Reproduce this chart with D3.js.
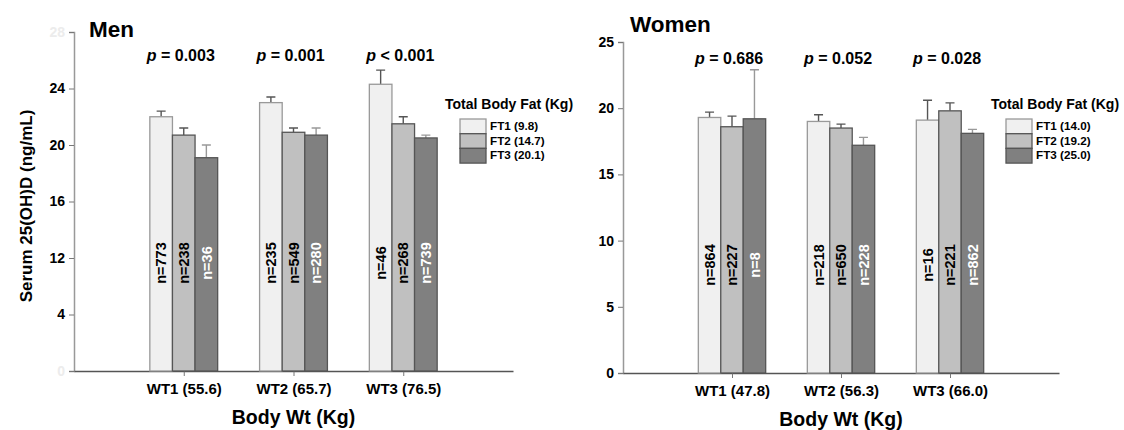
<!DOCTYPE html>
<html>
<head>
<meta charset="utf-8">
<script src="https://cdn.jsdelivr.net/npm/d3@7"></script>
<style>
  body { margin: 0; background: #fff; }
  svg { font-family: "Liberation Sans", Arial, sans-serif; font-weight: bold; }
</style>
</head>
<body>
<svg id="chart" width="1124" height="430"></svg>
<script>
// bar chart data, men panel
var groupsMen = ["WT1 (55.6)", "WT2 (65.7)", "WT3 (76.5)"];
var seriesMen = ["FT1 (9.8)", "FT2 (14.7)", "FT3 (20.1)"];
var meanMen = [[22.0, 20.7, 19.1], [23.0, 20.9, 20.7], [24.3, 21.5, 20.5]];
var errTopMen = [[22.4, 21.2, 20.0], [23.4, 21.2, 21.2], [25.3, 22.0, 20.7]];
var nMen = [["773", "238", "36"], ["235", "549", "280"], ["46", "268", "739"]];
var pMen = ["= 0.003", "= 0.001", "< 0.001"];
var yTicksMen = [4, 8, 12, 16, 20, 24, 28];
var yTickLabelsMen = ["0", "4", "12", "16", "20", "24", "28"];

// women panel
var groupsWomen = ["WT1 (47.8)", "WT2 (56.3)", "WT3 (66.0)"];
var seriesWomen = ["FT1 (14.0)", "FT2 (19.2)", "FT3 (25.0)"];
var meanWomen = [[19.3, 18.6, 19.2], [19.0, 18.5, 17.2], [19.1, 19.8, 18.1]];
var errTopWomen = [[19.7, 19.4, 22.9], [19.5, 18.8, 17.8], [20.6, 20.4, 18.4]];
var nWomen = [["864", "227", "8"], ["218", "650", "228"], ["16", "221", "862"]];
var pWomen = ["= 0.686", "= 0.052", "= 0.028"];
var yTicksWomen = [0, 5, 10, 15, 20, 25];
var yTickLabelsWomen = ["0", "5", "10", "15", "20", "25"];

//bar styles per fat tertile
var barFill = ["#f0f0f0", "#c0c0c0", "#808080"];
var barStroke = ["#999999", "#555555", "#555555"];
var errColor = ["#555555", "#555555", "#999999"];
var nColor = ["#000", "#000", "#fff"];

var svg = d3.select("#chart");

drawPanel({
  title: "Men", titleX: 89, titleY: 37,
  groups: groupsMen, series: seriesMen, mean: meanMen, errTop: errTopMen, n: nMen, p: pMen,
  yTicks: yTicksMen, yLabels: yTickLabelsMen, faintEnds: true,
  x0: 74, x1: 513, yMin: 4, yMax: 28, yBottom: 371, yTop: 32,
  pY: 61, nY: 263, legX: 445, legY: 109, yTitle: "Serum 25(OH)D (ng/mL)"
});

drawPanel({
  title: "Women", titleX: 630, titleY: 32,
  groups: groupsWomen, series: seriesWomen, mean: meanWomen, errTop: errTopWomen, n: nWomen, p: pWomen,
  yTicks: yTicksWomen, yLabels: yTickLabelsWomen, faintEnds: false,
  x0: 623, x1: 1059, yMin: 0, yMax: 25, yBottom: 373, yTop: 42,
  pY: 64, nY: 265, legX: 991, legY: 109, yTitle: null
});

function drawPanel(c) {
  var g = svg.append("g");

  var y = d3.scaleLinear().domain([c.yMin, c.yMax]).range([c.yBottom, c.yTop]);
  var x = d3.scalePoint().domain(c.groups).range([c.x0, c.x1]).padding(1);
  var bw = x.step() * 0.206;
  var xs = d3.scaleBand().domain(c.series).range([-1.5 * bw, 1.5 * bw]);

  //y axis
  var yAxis = g.append("g")
    .attr("transform", "translate(" + c.x0 + ",0)")
    .call(d3.axisLeft(y).tickValues(c.yTicks).tickSize(5).tickPadding(4)
      .tickFormat(function(d, i) { return c.yLabels[i]; }));
  yAxis.select(".domain").attr("stroke", "#999").attr("stroke-width", 1.5);
  yAxis.selectAll(".tick line").attr("stroke", "#777");
  yAxis.selectAll(".tick text")
    .attr("font-size", 14).attr("font-weight", "bold")
    .attr("font-family", "'Liberation Sans', Arial, sans-serif")
    .attr("fill", function(d, i) {
      if (c.faintEnds && (i == 0 || i == c.yTicks.length - 1)) return "#ececec";
      return "#000";
    });

  //x axis
  var xAxis = g.append("g")
    .attr("transform", "translate(0," + c.yBottom + ")")
    .call(d3.axisBottom(x).tickSize(5).tickPadding(7).tickSizeOuter(0));
  xAxis.select(".domain").attr("stroke", "#555").attr("stroke-width", 1.3);
  xAxis.selectAll(".tick line").attr("stroke", "#777");
  xAxis.selectAll(".tick text")
    .attr("font-size", 15).attr("font-weight", "bold")
    .attr("font-family", "'Liberation Sans', Arial, sans-serif")
    .attr("fill", "#000");

  //bars
  var groups = g.selectAll(".grp").data(c.groups).enter().append("g")
    .attr("transform", function(d) { return "translate(" + x(d) + ",0)"; });

  groups.each(function(gName, gi) {
    var gg = d3.select(this);
    var cells = c.series.map(function(s, si) {
      return { s: s, si: si, v: c.mean[gi][si], e: c.errTop[gi][si], n: c.n[gi][si] };
    });

    //error bars (upper only)
    gg.selectAll(".err").data(cells).enter().append("path")
      .attr("d", function(d) {
        var cx = xs(d.s) + xs.bandwidth() / 2;
        return "M" + cx + "," + y(d.v) + "V" + y(d.e) + "M" + (cx - 4.5) + "," + y(d.e) + "H" + (cx + 4.5);
      })
      .attr("stroke", function(d) { return errColor[d.si]; })
      .attr("stroke-width", 1.4)
      .attr("fill", "none");

    gg.selectAll("rect").data(cells).enter().append("rect")
      .attr("x", function(d) { return xs(d.s); })
      .attr("y", function(d) { return y(d.v); })
      .attr("width", xs.bandwidth())
      .attr("height", function(d) { return y(c.yMin) - y(d.v); })
      .attr("fill", function(d) { return barFill[d.si]; })
      .attr("stroke", function(d) { return barStroke[d.si]; })
      .attr("stroke-width", 1.3);

    //n labels, rotated inside the bars
    gg.selectAll(".nlab").data(cells).enter().append("text")
      .attr("transform", function(d) {
        return "translate(" + (xs(d.s) + xs.bandwidth() / 2) + "," + c.nY + ") rotate(-90)";
      })
      .attr("text-anchor", "middle")
      .attr("dy", "0.36em")
      .attr("font-size", 14.5)
      .attr("fill", function(d) { return nColor[d.si]; })
      .text(function(d) { return "n=" + d.n; });

    //p value
    var pt = gg.append("text")
      .attr("x", -3).attr("y", c.pY)
      .attr("text-anchor", "middle")
      .attr("font-size", 16);
    pt.append("tspan").attr("font-style", "italic").text("p");
    pt.append("tspan").text(" " + c.p[gi]);
  });

  //panel title
  g.append("text").attr("x", c.titleX).attr("y", c.titleY)
    .attr("font-size", 22.5).text(c.title);

  //x axis title
  g.append("text").attr("x", (c.x0 + c.x1) / 2).attr("y", c.yBottom + 53)
    .attr("text-anchor", "middle").attr("font-size", 19.5).text("Body Wt (Kg)");

  //y axis title
  if (c.yTitle) {
    g.append("text")
      .attr("transform", "translate(32,206) rotate(-90)")
      .attr("text-anchor", "middle").attr("font-size", 17).text(c.yTitle);
  }

  //legend
  var leg = g.append("g").attr("transform", "translate(" + c.legX + "," + c.legY + ")");
  leg.append("text").attr("font-size", 14).text("Total Body Fat (Kg)");
  var items = leg.selectAll(".li").data(c.series).enter().append("g")
    .attr("transform", function(d, i) { return "translate(15," + (10 + i * 14.7) + ")"; });
  items.append("rect").attr("width", 26).attr("height", 14.7)
    .attr("fill", function(d, i) { return barFill[i]; })
    .attr("stroke", function(d, i) { return barStroke[i]; })
    .attr("stroke-width", 1.3);
  items.append("text").attr("x", 30).attr("y", 11)
    .attr("font-size", 11.7).text(function(d) { return d; });
}
</script>
</body>
</html>
